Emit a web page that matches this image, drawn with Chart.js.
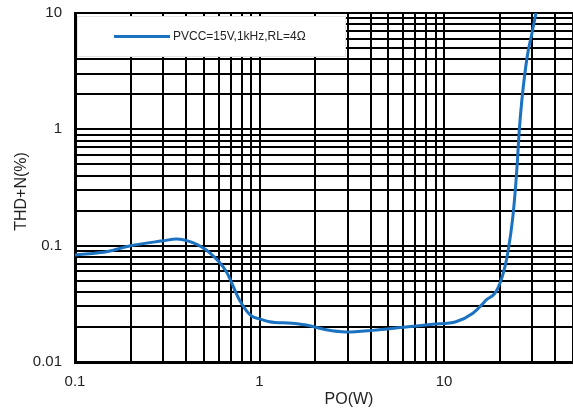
<!DOCTYPE html>
<html>
<head>
<meta charset="utf-8">
<script src="https://cdn.jsdelivr.net/npm/chart.js@4.4.0/dist/chart.umd.min.js"></script>
<style>
html, body { margin: 0; padding: 0; background: #fff; }
#wrap { width: 573px; height: 416px; }
</style>
</head>
<body>
<div id="wrap"><canvas id="thdChart"></canvas></div>
<script>
// output power (W) and THD+N (%)
const power = [0.1, 0.15, 0.2, 0.3, 0.354, 0.435, 0.536, 0.66, 0.78, 0.9, 1.0, 1.13, 1.5, 1.87, 2.3, 2.95, 4.1, 6.2, 8.7, 11.6, 14.4, 16.0, 17.0, 18.9, 20.1, 21.4, 22.3, 23.6, 24.5, 25.0, 25.5, 26.4, 27.7, 28.6, 29.9, 31.5];
const thd = [0.083, 0.089, 0.1, 0.11, 0.114, 0.106, 0.087, 0.06, 0.034, 0.025, 0.0235, 0.0222, 0.0215, 0.0205, 0.0189, 0.0181, 0.0187, 0.02, 0.0211, 0.0222, 0.0264, 0.031, 0.0343, 0.0391, 0.0476, 0.066, 0.092, 0.177, 0.343, 0.542, 0.92, 1.77, 3.42, 4.75, 6.6, 10];

const xTickLabels = ['0.1', '1', '10'];
const yTickLabels = ['0.01', '0.1', '1', '10'];
const seriesLabel = 'PVCC=15V,1kHz,RL=4Ω';
const xTitle = 'PO(W)';
const yTitle = 'THD+N(%)';

const lineColor = '#1a72c0';
const fontFamily = "Arial, 'Liberation Sans', sans-serif";

// 1..9 steps of every decade between min and max
function logGrid(min, max) {
  const out = [];
  for (let d = Math.floor(Math.log10(min)); d <= Math.ceil(Math.log10(max)); d++) {
    for (let m = 1; m <= 9; m++) {
      const v = parseFloat((m * Math.pow(10, d)).toPrecision(2));
      if (v >= min * 0.999 && v <= max * 1.001) out.push({ value: v });
    }
  }
  return out;
}

// fixed axis box, no extra room for overhanging labels
function fixBox(size, key) {
  return s => {
    s[key] = size;
    s.paddingTop = 0;
    s.paddingBottom = 0;
    s.paddingLeft = 0;
    s.paddingRight = 0;
  };
}

// white legend panel and axis titles
const annotate = {
  id: 'annotate',
  beforeDatasetsDraw(chart) {
    const { ctx, chartArea: a } = chart;
    ctx.save();
    ctx.fillStyle = '#fff';
    ctx.fillRect(a.left + 2, a.top + 3, 269, 41);
    ctx.strokeStyle = '#e4e4e4';
    ctx.lineWidth = 1;
    ctx.strokeRect(a.left + 2.5, a.top + 3.5, 268, 40);

    const cy = a.top + 23.5;
    ctx.strokeStyle = lineColor;
    ctx.lineWidth = 3;
    ctx.beginPath();
    ctx.moveTo(a.left + 39, cy);
    ctx.lineTo(a.left + 95, cy);
    ctx.stroke();

    ctx.fillStyle = '#222';
    ctx.font = '12px ' + fontFamily;
    ctx.textBaseline = 'middle';
    ctx.fillText(seriesLabel, a.left + 98, cy);
    ctx.restore();
  },
  afterDraw(chart) {
    const { ctx, chartArea: a } = chart;
    ctx.save();
    ctx.fillStyle = '#222';
    ctx.font = '16px ' + fontFamily;
    ctx.textAlign = 'center';
    ctx.textBaseline = 'middle';
    ctx.fillText(xTitle, (a.left + a.right) / 2 + 25, 400);
    ctx.translate(22, (a.top + a.bottom) / 2 + 4);
    ctx.rotate(-Math.PI / 2);
    ctx.fillText(yTitle, 0, 0);
    ctx.restore();
  }
};

const gridStyle = { color: '#000', lineWidth: 2, drawTicks: false };
const borderStyle = { color: '#000', width: 3 };

new Chart(document.getElementById('thdChart'), {
  type: 'line',
  data: {
    datasets: [{
      label: seriesLabel,
      data: power.map((p, i) => ({ x: p, y: thd[i] })),
      borderColor: lineColor,
      borderWidth: 3,
      pointRadius: 0,
      cubicInterpolationMode: 'monotone',
      fill: false
    }]
  },
  options: {
    responsive: true,
    maintainAspectRatio: false,
    animation: false,
    layout: { padding: { top: 13, left: 0, right: 0, bottom: 0 } },
    plugins: {
      legend: { display: false },
      tooltip: { enabled: false }
    },
    scales: {
      x: {
        type: 'logarithmic',
        min: 0.1,
        max: 50,
        grid: gridStyle,
        border: borderStyle,
        afterBuildTicks: s => { s.ticks = logGrid(0.1, 50); },
        afterFit: fixBox(54, 'height'),
        ticks: {
          autoSkip: false,
          maxRotation: 0,
          padding: 11,
          color: '#222',
          font: { family: fontFamily, size: 15 },
          callback: v => xTickLabels.includes(String(v)) ? String(v) : ''
        }
      },
      y: {
        type: 'logarithmic',
        min: 0.01,
        max: 10,
        grid: gridStyle,
        border: borderStyle,
        afterBuildTicks: s => { s.ticks = logGrid(0.01, 10); },
        afterFit: fixBox(75, 'width'),
        ticks: {
          autoSkip: false,
          padding: 13,
          color: '#222',
          font: { family: fontFamily, size: 15 },
          callback: v => yTickLabels.includes(String(v)) ? String(v) : ''
        }
      }
    }
  },
  plugins: [annotate]
});
</script>
</body>
</html>
